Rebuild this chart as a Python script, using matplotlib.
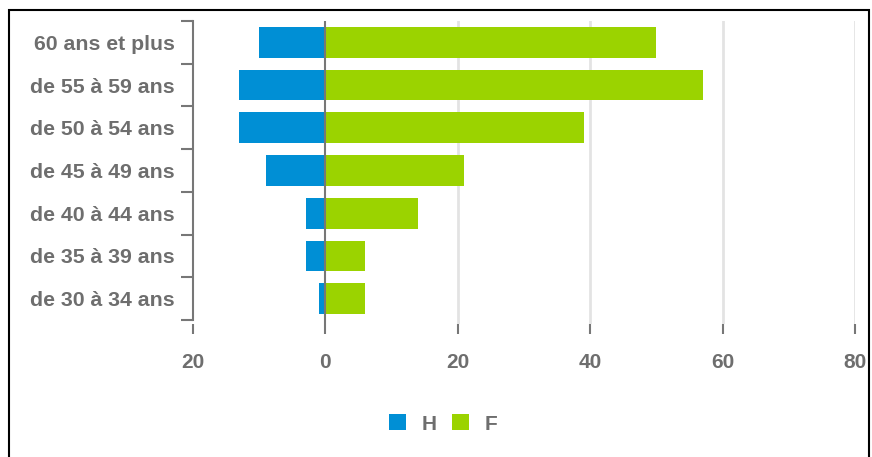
import matplotlib
matplotlib.use("Agg")
import matplotlib.pyplot as plt
from matplotlib.patches import Rectangle, Patch

# data (bottom to top)
categories = ['de 30 à 34 ans', 'de 35 à 39 ans', 'de 40 à 44 ans', 'de 45 à 49 ans',
              'de 50 à 54 ans', 'de 55 à 59 ans', '60 ans et plus']
hommes = [1, 3, 3, 9, 13, 13, 10]
femmes = [6, 6, 14, 21, 39, 57, 50]
x_ticks = [-20, 0, 20, 40, 60, 80]
x_tick_labels = ['20', '0', '20', '40', '60', '80']

blue = '#008fd5'
green = '#9bd300'
grey_txt = '#6e6e6e'

plt.rcParams['font.family'] = ['Liberation Sans', 'DejaVu Sans']
plt.rcParams['font.weight'] = 'bold'

fig = plt.figure(figsize=(8.72, 4.57), dpi=100)
W, H = 872, 457

# axes placed in pixel coords
left, right, top, bottom = 193, 855, 21, 324
ax = fig.add_axes([left / W, 1 - bottom / H, (right - left) / W, (bottom - top) / H])

y = list(range(len(categories)))
ax.barh(y, [-h for h in hommes], height=0.72, color=blue, label='H', zorder=3)
ax.barh(y, femmes, height=0.72, color=green, label='F', zorder=3)

ax.set_xlim(-20, 80)
unit = (320 - 21) / 7.0
ax.set_ylim(-0.5 - (bottom - 320) / unit, 6.5)

# gridlines and zero line
for v in [20, 40, 60, 80]:
    ax.axvline(v, color='#e3e3e3', lw=2, zorder=1)
ax.axvline(0, ymin=0, ymax=1, color='#777777', lw=1.5, zorder=4)

ax.set_xticks(x_ticks)
ax.set_xticklabels(x_tick_labels)
ax.tick_params(axis='x', length=7, width=1.5, color='#777777', pad=14,
               labelsize=15, labelcolor=grey_txt)

ax.set_yticks(y)
ax.set_yticklabels(categories)
ax.set_yticks([i - 0.5 for i in range(len(categories) + 1)], minor=True)
ax.tick_params(axis='y', which='major', length=0, pad=13, labelsize=15.3, labelcolor=grey_txt)
ax.tick_params(axis='y', which='minor', length=9, width=1.5, color='#777777')

for s in ['top', 'right', 'bottom']:
    ax.spines[s].set_visible(False)
ax.spines['left'].set_color('#777777')
ax.spines['left'].set_linewidth(1.5)
ax.spines['left'].set_bounds(-0.5, 6.5)

# legend
handles = [Patch(facecolor=blue, label='H'), Patch(facecolor=green, label='F')]
leg = fig.legend(handles=handles, loc='center', bbox_to_anchor=(443 / W, 1 - 424 / H),
                 ncol=2, frameon=False, handlelength=0.8, handleheight=0.8,
                 handletextpad=0.75, columnspacing=0.75, fontsize=15)
for t in leg.get_texts():
    t.set_color(grey_txt)

# outer frame
fig.add_artist(Rectangle((9 / W, -0.1), (869 - 9) / W, 1.1 - 10 / H,
                         transform=fig.transFigure, fill=False, edgecolor='black',
                         lw=1.5, clip_on=False))

fig.savefig('out.png', dpi=100)
